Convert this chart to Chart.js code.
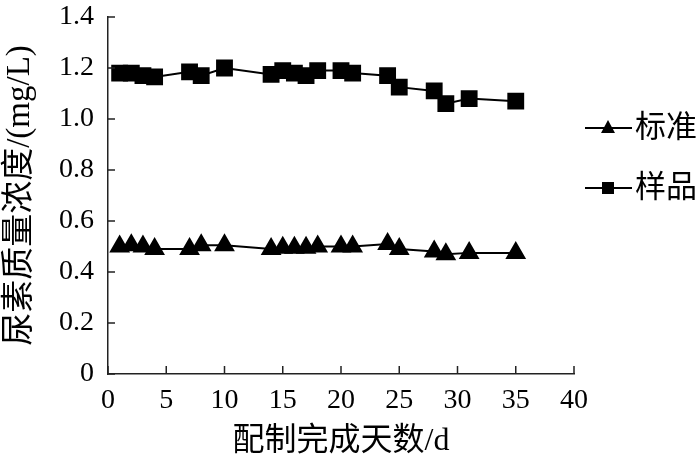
<!DOCTYPE html>
<html>
<head>
<meta charset="utf-8">
<script src="https://cdn.jsdelivr.net/npm/chart.js@4/dist/chart.umd.min.js"></script>
<style>
  html, body { margin: 0; padding: 0; background: #fff; }
  #wrap { width: 700px; height: 465px; position: relative; }
</style>
</head>
<body>
<div id="wrap"><canvas id="urea"></canvas></div>
<script>
// days since preparation
const days = [1, 2, 3, 4, 7, 8, 10, 14, 15, 16, 17, 18, 20, 21, 24, 25, 28, 29, 31, 35];
const standardValues = [0.50, 0.505, 0.50, 0.49, 0.49, 0.505, 0.505, 0.49, 0.495, 0.495, 0.495, 0.50, 0.50, 0.50, 0.51, 0.49, 0.48, 0.47, 0.475, 0.475];
const sampleValues = [1.18, 1.18, 1.17, 1.165, 1.185, 1.17, 1.20, 1.175, 1.19, 1.18, 1.17, 1.19, 1.19, 1.18, 1.17, 1.125, 1.11, 1.06, 1.08, 1.07];
const seriesNames = ["标准", "样品"];
const xTicks = [0, 5, 10, 15, 20, 25, 30, 35, 40];
const yTicks = [0, 0.2, 0.4, 0.6, 0.8, 1.0, 1.2, 1.4];

const serif = "'Liberation Serif', 'Noto Sans CJK SC', serif";
const ink = "#000";
const axisInk = "#222";

function toPoints(values) {
  return days.map((d, i) => ({ x: d, y: values[i] }));
}

// short tick marks pointing into the plot area
const innerTicks = {
  id: "innerTicks",
  afterDraw(chart) {
    const { ctx, chartArea, scales } = chart;
    ctx.save();
    ctx.strokeStyle = axisInk;
    ctx.lineWidth = 1.5;
    ctx.beginPath();
    xTicks.forEach((t) => {
      const px = scales.x.getPixelForValue(t);
      ctx.moveTo(px, chartArea.bottom);
      ctx.lineTo(px, chartArea.bottom - 8);
    });
    yTicks.forEach((t) => {
      const py = scales.y.getPixelForValue(t);
      ctx.moveTo(chartArea.left, py);
      ctx.lineTo(chartArea.left + 7, py);
    });
    ctx.stroke();
    ctx.restore();
  },
};

// legend drawn as line - marker - line, then the label
const sideLegend = {
  id: "sideLegend",
  afterDraw(chart) {
    const { ctx } = chart;
    const rows = [
      { label: seriesNames[0], style: "triangle", y: 128 },
      { label: seriesNames[1], style: "rect", y: 188 },
    ];
    ctx.save();
    rows.forEach((row) => {
      ctx.strokeStyle = ink;
      ctx.fillStyle = ink;
      ctx.lineWidth = 2;
      ctx.beginPath();
      ctx.moveTo(585, row.y);
      ctx.lineTo(632, row.y);
      ctx.stroke();
      ctx.beginPath();
      if (row.style === "rect") {
        ctx.rect(608 - 6, row.y - 6, 12, 12);
      } else {
        ctx.moveTo(608, row.y - 8);
        ctx.lineTo(615, row.y + 5);
        ctx.lineTo(601, row.y + 5);
        ctx.closePath();
      }
      ctx.fill();
      ctx.font = "31px " + serif;
      ctx.textBaseline = "middle";
      ctx.fillText(row.label, 635, row.y + 1);
    });
    ctx.restore();
  },
};

new Chart(document.getElementById("urea").getContext("2d"), {
  type: "scatter",
  data: {
    datasets: [
      {
        label: seriesNames[0],
        data: toPoints(standardValues),
        showLine: true,
        borderColor: ink,
        backgroundColor: ink,
        borderWidth: 2,
        pointStyle: "triangle",
        pointRadius: 10,
        pointHoverRadius: 10,
      },
      {
        label: seriesNames[1],
        data: toPoints(sampleValues),
        showLine: true,
        borderColor: ink,
        backgroundColor: ink,
        borderWidth: 2,
        pointStyle: "rect",
        pointRadius: 10.5,
        pointHoverRadius: 10.5,
      },
    ],
  },
  options: {
    responsive: true,
    maintainAspectRatio: false,
    animation: false,
    layout: { padding: { left: 0, right: 126, top: 17, bottom: 0 } },
    plugins: {
      legend: { display: false },
      tooltip: { enabled: false },
    },
    scales: {
      x: {
        type: "linear",
        min: 0,
        max: 40,
        afterBuildTicks: (scale) => {
          scale.ticks = xTicks.map((v) => ({ value: v }));
        },
        afterFit: (scale) => {
          scale.height = 91;
        },
        grid: { display: true, drawOnChartArea: false, drawTicks: false },
        border: { display: true, color: axisInk, width: 1.5 },
        ticks: {
          color: ink,
          padding: 10,
          maxRotation: 0,
          font: { family: serif, size: 28 },
        },
        title: {
          display: true,
          text: "配制完成天数/d",
          color: ink,
          font: { family: serif, size: 32 },
          padding: { top: 0, bottom: 4 },
        },
      },
      y: {
        type: "linear",
        min: 0,
        max: 1.4,
        afterBuildTicks: (scale) => {
          scale.ticks = yTicks.map((v) => ({ value: v }));
        },
        afterFit: (scale) => {
          scale.width = 108;
          // keep the plot top at the layout padding
          scale.paddingTop = 0;
          scale.paddingBottom = 0;
        },
        grid: { display: true, drawOnChartArea: false, drawTicks: false },
        border: { display: true, color: axisInk, width: 1.5 },
        ticks: {
          color: ink,
          padding: 14,
          font: { family: serif, size: 28 },
          callback: (v) => (v === 0 ? "0" : v.toFixed(1)),
        },
        title: {
          display: true,
          text: "尿素质量浓度/(mg/L)",
          color: ink,
          font: { family: serif, size: 33 },
          padding: { top: 1, bottom: 0 },
        },
      },
    },
  },
  plugins: [innerTicks, sideLegend],
});
</script>
</body>
</html>
